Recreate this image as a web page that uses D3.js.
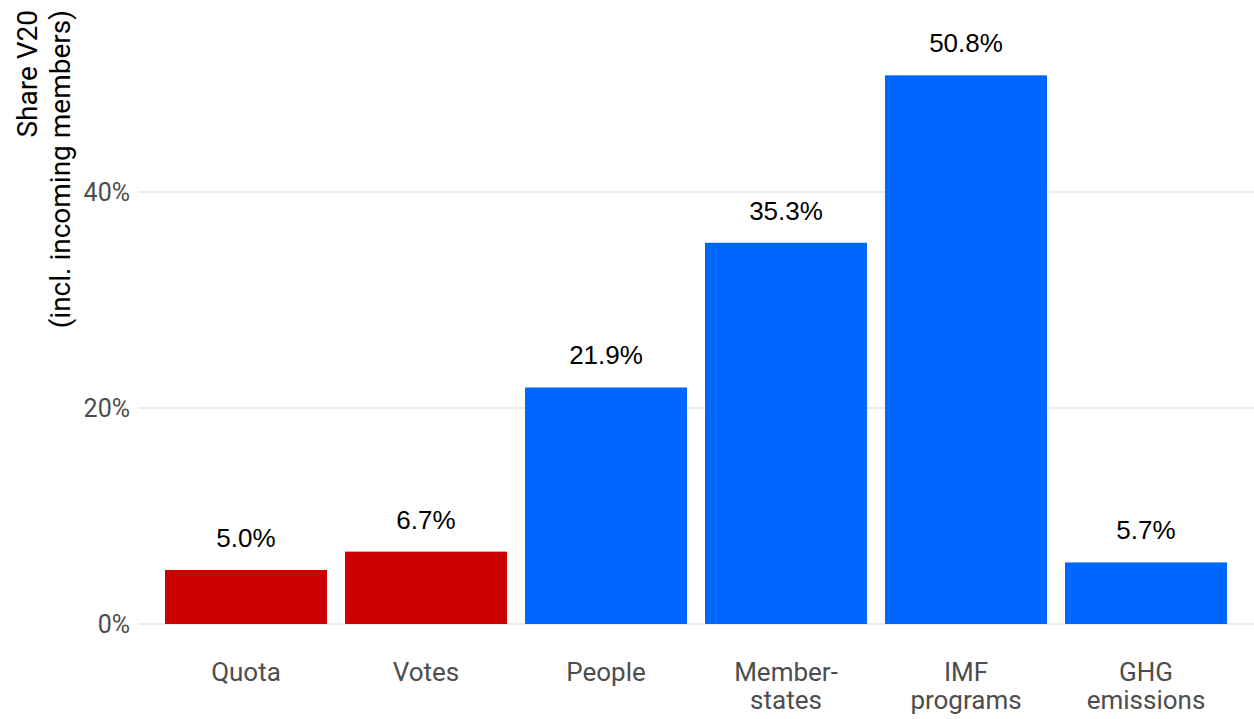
<!DOCTYPE html>
<html><head><meta charset="utf-8">
<script src="https://cdn.jsdelivr.net/npm/d3@7"></script>
<style>body{margin:0;background:#fff}</style>
</head><body>
<svg id="c" width="1254" height="719"></svg>
<script>
const categories = ["Quota","Votes","People","Member-\nstates","IMF\nprograms","GHG\nemissions"];
const values = [5.0, 6.7, 21.9, 35.3, 50.8, 5.7];
const barColors = ["#CC0000","#CC0000","#0066FF","#0066FF","#0066FF","#0066FF"];
const yTicks = [0, 20, 40];
const yTitle = ["Share V20", "(incl. incoming members)"];

const svg = d3.select("#c");
const x = d3.scaleBand().domain(categories).range([147,1245]).paddingInner(0.1).paddingOuter(0.1);
const y = d3.scaleLinear().domain([0,50]).range([624,84]);

// gridlines
svg.append("g").selectAll("line").data(yTicks).join("line")
  .attr("x1",138).attr("x2",1254)
  .attr("y1",d=>y(d)).attr("y2",d=>y(d))
  .attr("stroke","#d9d9d9").attr("stroke-width",1.1);

// y tick labels
svg.append("g").selectAll("text").data(yTicks).join("text")
  .attr("x",130).attr("y",d=>y(d))
  .attr("dy","0.35em").attr("text-anchor","end")
  .attr("font-family","Roboto").attr("font-size",25).attr("fill","#4d4d4d")
  .text(d=>d+"%");

// bars
svg.append("g").selectAll("rect").data(values).join("rect")
  .attr("x",(d,i)=>x(categories[i])).attr("width",x.bandwidth())
  .attr("y",d=>y(d)).attr("height",d=>y(0)-y(d))
  .attr("fill",(d,i)=>barColors[i]);

// value labels
svg.append("g").selectAll("text").data(values).join("text")
  .attr("x",(d,i)=>x(categories[i])+x.bandwidth()/2)
  .attr("y",d=>y(d)-23)
  .attr("text-anchor","middle")
  .attr("font-family","Liberation Sans, Arial").attr("font-size",26).attr("fill","#000")
  .text(d=>d.toFixed(1)+"%");

// x category labels (one text per line)
const xLines = [];
categories.forEach(c=>c.split("\n").forEach((l,k)=>xLines.push({c,l,k})));
svg.append("g").selectAll("text").data(xLines).join("text")
  .attr("x",d=>x(d.c)+x.bandwidth()/2)
  .attr("y",d=>681+d.k*28)
  .attr("text-anchor","middle")
  .attr("font-family","Roboto").attr("font-size",26).attr("fill","#4d4d4d")
  .text(d=>d.l);

// y title
yTitle.forEach((l,k)=>{
  svg.append("text")
    .attr("transform",`translate(${37+k*33},10) rotate(-90)`)
    .attr("text-anchor","end")
    .attr("font-family","Roboto").attr("font-size",28).attr("fill","#000")
    .text(l);
});
</script>
</body></html>
